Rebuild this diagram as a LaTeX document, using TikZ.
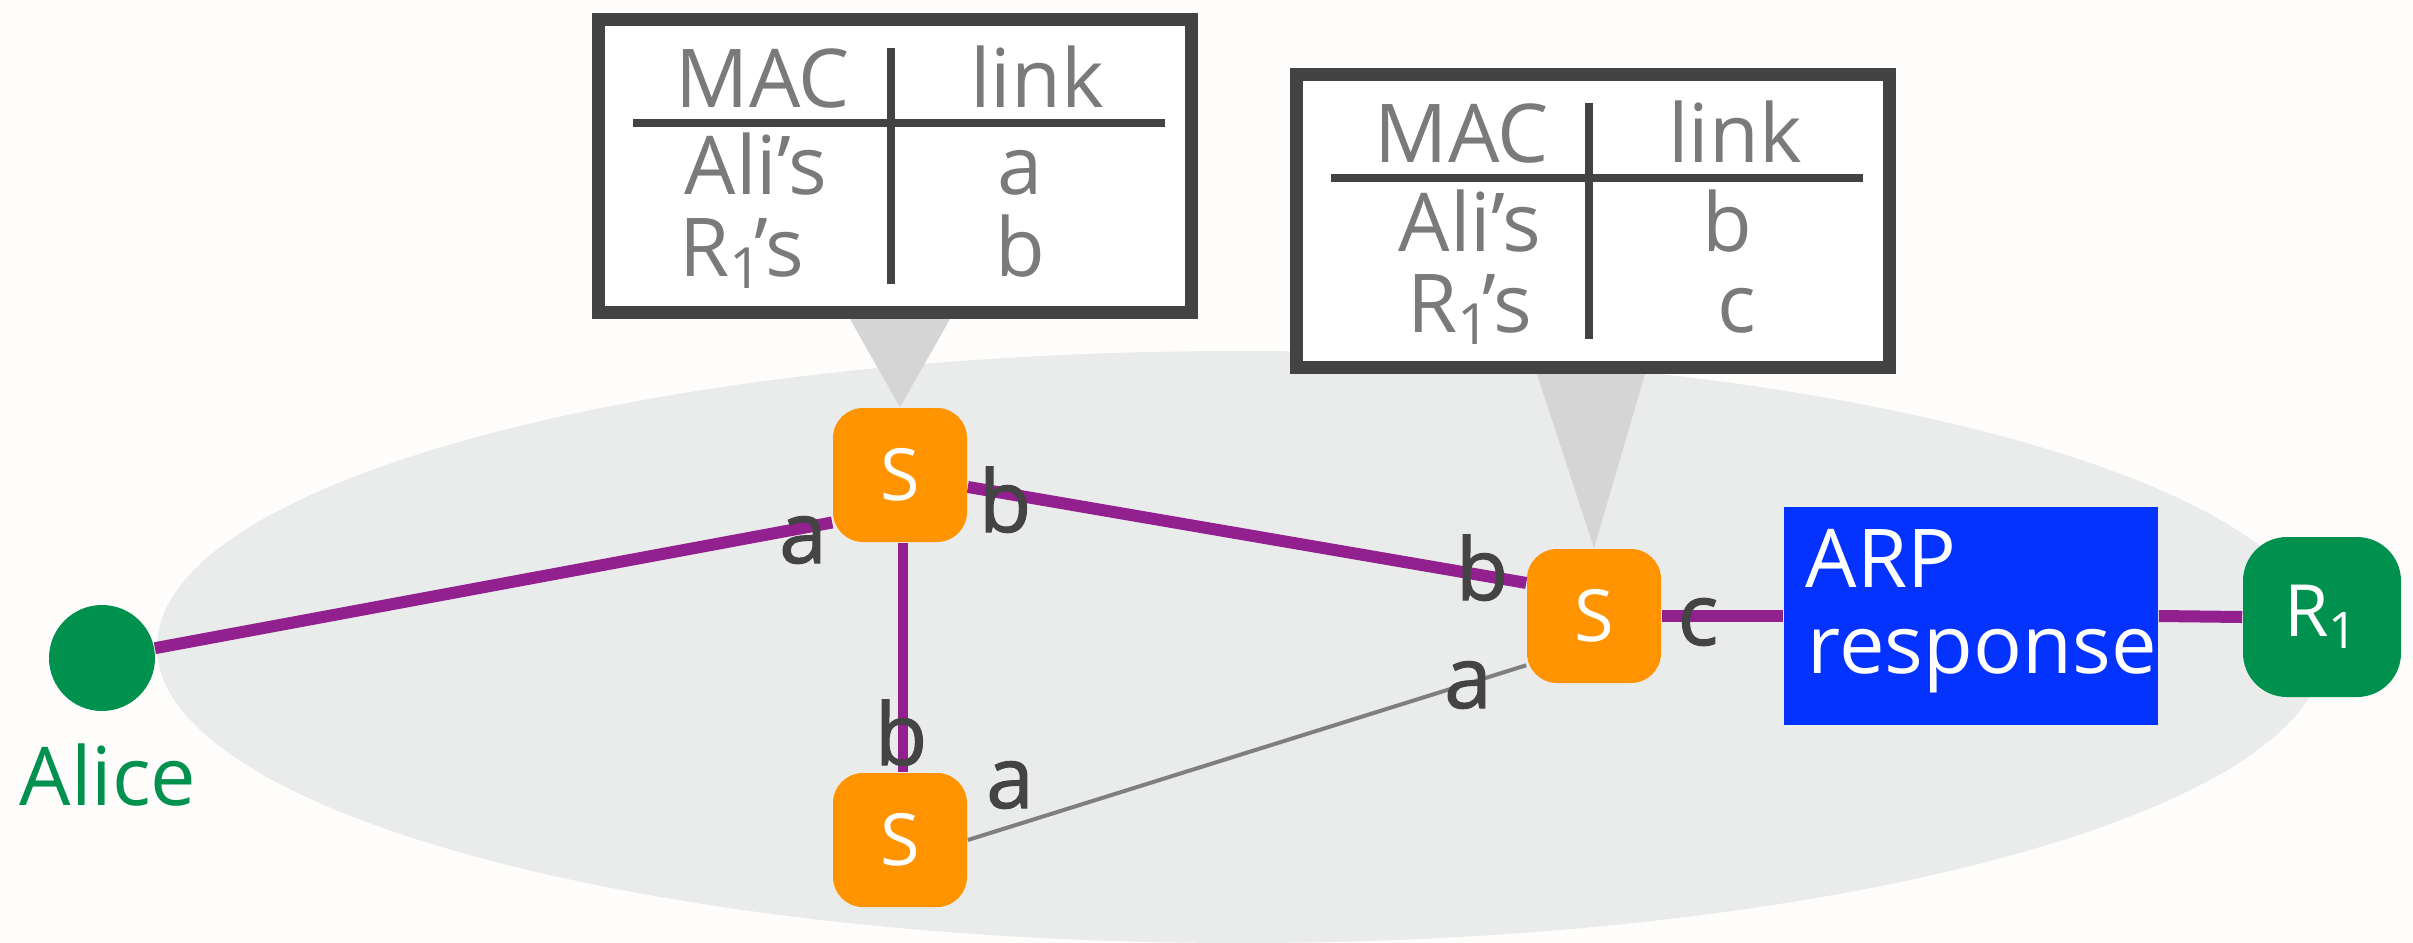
\documentclass[tikz,border=0pt]{standalone}
\usepackage{fontspec}
\setmainfont{Open Sans}
\newfontfamily\portfont[FakeBold=1.2]{Open Sans}
\usetikzlibrary{calc}

\definecolor{paper}{HTML}{FEFDFC}
\definecolor{lanfill}{HTML}{EAEBEB}
\definecolor{callout}{HTML}{D5D5D5}
\definecolor{switchorange}{HTML}{FF9300}
\definecolor{hostgreen}{HTML}{00914F}
\definecolor{linkpurple}{HTML}{92208F}
\definecolor{arpblue}{HTML}{0433FF}
\definecolor{framegray}{HTML}{434343}
\definecolor{cellgray}{HTML}{7A7A7A}
\definecolor{portgray}{HTML}{444444}
\definecolor{sparegray}{HTML}{7F7F7F}

\pgfdeclarelayer{bg}
\pgfdeclarelayer{links}
\pgfsetlayers{bg,links,main}

% router name with its index, as used in the tables
\newcommand\routerone{R\textsubscript{1}\kern-0.12em’s}

\begin{document}
\begin{tikzpicture}[x=0.25pt,y=-0.25pt,
  hand/.style={font=\fontsize{20.3pt}{24pt}\selectfont},
  switchbox/.style={rectangle, rounded corners=7.5pt, fill=switchorange,
    minimum width=33.5pt, minimum height=33.5pt, inner sep=0pt,
    text=white, font=\fontsize{18pt}{20pt}\selectfont},
  host/.style={circle, fill=hostgreen, minimum size=26.5pt, inner sep=0pt},
  router/.style={rectangle, rounded corners=11pt, fill=hostgreen,
    minimum width=39.5pt, minimum height=40pt, inner sep=0pt,
    text=white, font=\fontsize{18pt}{20pt}\selectfont},
  arpbox/.style={rectangle, fill=arpblue, minimum width=93.5pt,
    minimum height=54.5pt, inner sep=0pt},
  tablebox/.style={rectangle, draw=framegray, line width=3.25pt, fill=white,
    minimum width=148.25pt, minimum height=73.25pt, inner sep=0pt},
  tablerule/.style={draw=framegray, line width=2pt},
  cell/.style={hand, text=cellgray, anchor=base, inner sep=0pt},
  port/.style={font=\portfont\fontsize{21.5pt}{24pt}\selectfont, text=portgray,
    anchor=base, inner sep=0pt},
  wire/.style={draw=linkpurple, line width=3pt},
  thinwire/.style={draw=linkpurple, line width=2.5pt},
  spare/.style={draw=sparegray, line width=1pt},
  wedge/.style={fill=callout}
]
\useasboundingbox (0,0) rectangle (2413,943);

% network nodes
\node[host] (alice) at (102,658) {};
\node[hand, text=hostgreen, anchor=base, inner sep=0pt] (alicename) at (108,805) {Alice};
\node[switchbox] (s1) at (900,475) {S};
\node[switchbox] (s2) at (900,840) {S};
\node[switchbox] (s3) at (1594,616) {S};
\node[arpbox] (arp) at (1971,616) {};
\node[hand, text=white, anchor=base west, inner sep=0pt] (arptop) at (1805,587) {ARP};
\node[hand, text=white, anchor=base west, inner sep=0pt] (arpbottom) at (1807,673) {response};
\node[router] (r1) at (2322,617) {R\textsubscript{1}};

% forwarding tables
\node[tablebox] (tab1) at (895,166) {};
\draw[tablerule] (891,48) -- (891,284);
\draw[tablerule] (633,123) -- (1165,123);
\node[cell] (t1mac)  at (763,107) {MAC};
\node[cell] (t1link) at (1037,107) {link};
\node[cell] (t1ali)  at (756,194) {Ali’s};
\node[cell] (t1alip) at (1020,194) {a};
\node[cell] (t1r)    at (742,276) {\routerone};
\node[cell] (t1rp)   at (1020,276) {b};

\begin{scope}[shift={(698,55)}]
\node[tablebox] (tab2) at (895,166) {};
\draw[tablerule] (891,48) -- (891,284);
\draw[tablerule] (633,123) -- (1165,123);
\node[cell] (t2mac)  at (764,107) {MAC};
\node[cell] (t2link) at (1037,107) {link};
\node[cell] (t2ali)  at (772,196) {Ali’s};
\node[cell] (t2alip) at (1029,196) {b};
\node[cell] (t2r)    at (772,277) {\routerone};
\node[cell] (t2rp)   at (1039,277) {c};
\end{scope}

% port labels
\node[port] (pa1) at (803,563) {a};
\node[port] (pb1) at (1005,532) {b};
\node[port] (pb2) at (901,765) {b};
\node[port] (pa2) at (1010,808) {a};
\node[port] (pb3) at (1482,600) {b};
\node[port] (pa3) at (1468,708) {a};
\node[port] (pc3) at (1698,645) {c};

% broadcast domain and table callouts
\begin{pgfonlayer}{bg}
  \fill[paper] (0,0) rectangle (2413,943);
  \fill[lanfill] (1241,647) ellipse [x radius=271pt, y radius=74pt];
  \fill[wedge] ($(tab1.south)+(-45,0)$) -- ($(tab1.south)+(55,0)$) -- (s1.north) -- cycle;
  \fill[wedge] ($(tab2.south)+(-56,0)$) -- ($(tab2.south)+(52,0)$) -- (s3.north) -- cycle;
\end{pgfonlayer}

% links
\begin{pgfonlayer}{links}
  \draw[wire] (alice) -- (s1.215.6);
  \draw[wire] (s1.-10.2) -- (s3.154.8);
  \draw[thinwire] ($(s1.south)+(3,0)$) -- ($(s2.north)+(3,0)$);
  \draw[spare] (s2.east) -- (s3.216.6);
  \draw[wire] (s3.east) -- (arp.west);
  \draw[wire] (arp.east) -- (r1.west);
\end{pgfonlayer}
\end{tikzpicture}
\end{document}
